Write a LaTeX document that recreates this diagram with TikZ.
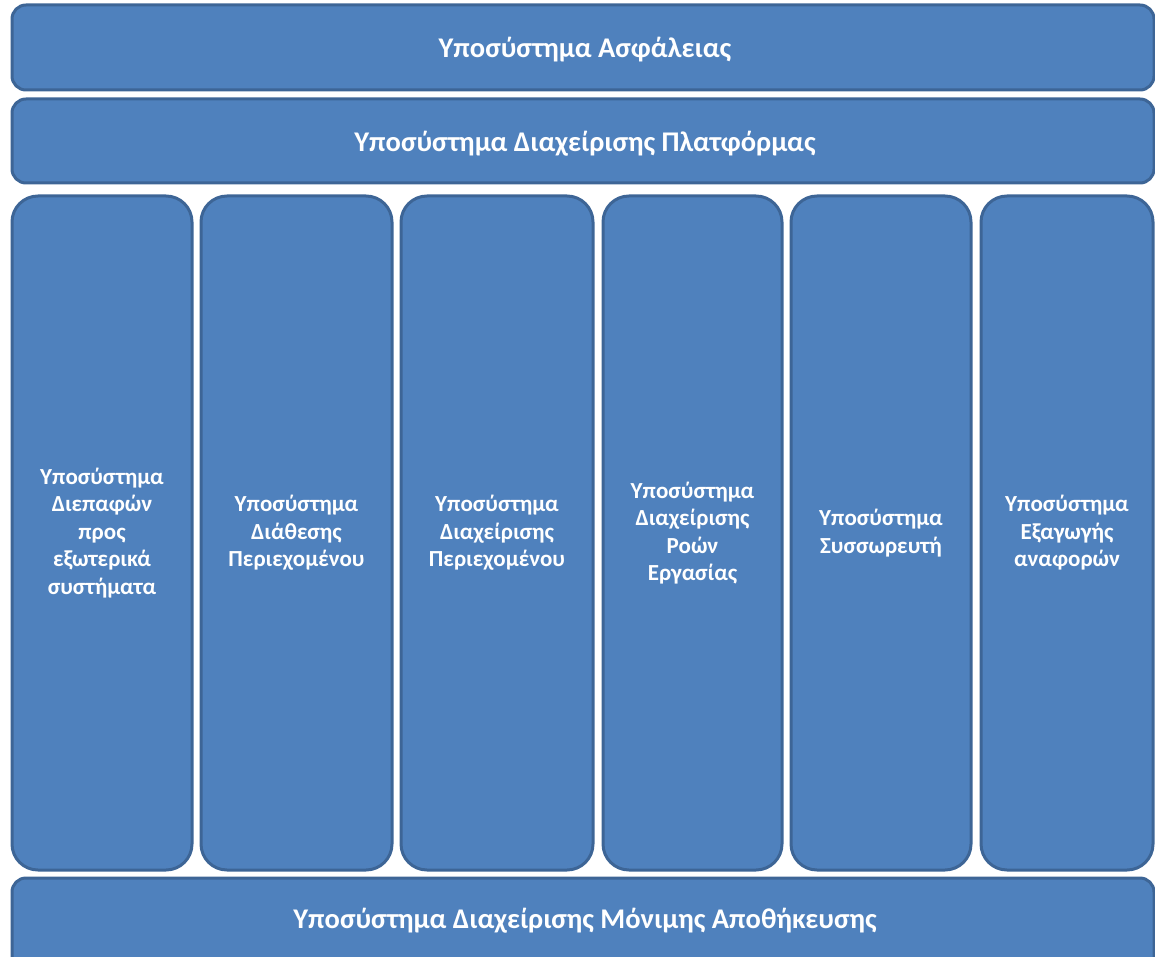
\documentclass[tikz,border=0pt]{standalone}
\usepackage{fontspec}
\setmainfont{Carlito}
\definecolor{boxfill}{HTML}{4F81BD}
\definecolor{boxline}{HTML}{3D6596}
\begin{document}
\begin{tikzpicture}[x=1pt,y=-1pt,
  blk/.style={draw=boxline, fill=boxfill, line width=3pt, inner sep=0pt, outer sep=0pt, text=white, align=center},
  wide/.style={blk, rounded corners=14pt, minimum width=1142pt},
  widetext/.style={text=white, inner sep=0pt, font=\bfseries\fontsize{28.5}{34}\selectfont},
  col/.style={blk, rounded corners=26pt, minimum height=674pt, font=\bfseries\fontsize{23}{27.5}\selectfont}]
\useasboundingbox (0,0) rectangle (1155,957);
\clip (0,0) rectangle (1155,957);
\node[wide, minimum height=85pt] (sec) at (583,47.5) {};
\node[widetext] (sect) at (585,50) {Υποσύστημα Ασφάλειας};
\node[wide, minimum height=84pt] (plat) at (583,141) {};
\node[widetext] (platt) at (585,144) {Υποσύστημα Διαχείρισης Πλατφόρμας};
\node[col, minimum width=180pt] (c1) at (102,533) {Υποσύστημα\\Διεπαφών\\προς\\εξωτερικά\\συστήματα};
\node[col, minimum width=191pt] (c2) at (296.5,533) {Υποσύστημα\\Διάθεσης\\Περιεχομένου};
\node[col, minimum width=192pt] (c3) at (497,533) {Υποσύστημα\\Διαχείρισης\\Περιεχομένου};
\node[col, minimum width=179pt] (c4) at (692.5,533) {Υποσύστημα\\Διαχείρισης\\Ροών\\Εργασίας};
\node[col, minimum width=180pt] (c5) at (881,533) {Υποσύστημα\\Συσσωρευτή};
\node[col, minimum width=172pt] (c6) at (1067,533) {Υποσύστημα\\Εξαγωγής\\αναφορών};
\node[wide, minimum height=120pt, anchor=north] (store) at (583,878) {};
\node[widetext] (storet) at (585,921) {Υποσύστημα Διαχείρισης Μόνιμης Αποθήκευσης};
\end{tikzpicture}
\end{document}
